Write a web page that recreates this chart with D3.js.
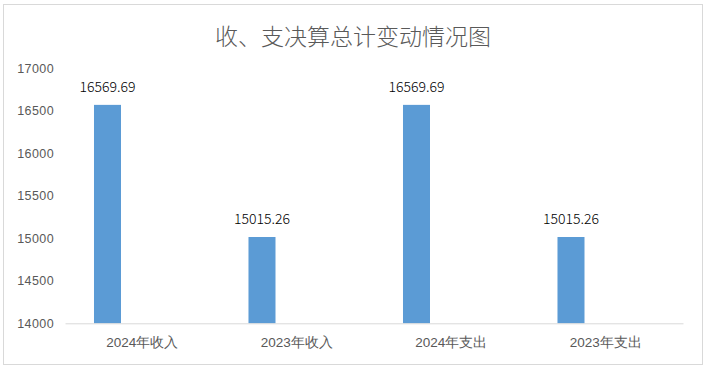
<!DOCTYPE html>
<html>
<head>
<meta charset="utf-8">
<script src="https://cdn.jsdelivr.net/npm/d3@7"></script>
<style>
  body { margin: 0; background: #fff; }
  svg { display: block; font-family: "Noto Sans CJK SC", "Noto Sans", sans-serif; }
</style>
</head>
<body>
<svg width="709" height="370"></svg>
<script>
var categories = ["2024年收入", "2023年收入", "2024年支出", "2023年支出"];
var seriesNames = ["系列1", "系列2"];
var series1 = [16569.69, 15015.26, 16569.69, 15015.26];
var series2 = [null, null, null, null];
var yTicks = [14000, 14500, 15000, 15500, 16000, 16500, 17000];
var title = "收、支决算总计变动情况图";

var svg = d3.select("svg"),
    width = +svg.attr("width"),
    height = +svg.attr("height");

var plotLeft = 65, plotRight = 683, plotTop = 68.3, plotBottom = 323.3;

// chart border
svg.append("rect")
    .attr("x", 3.5).attr("y", 4.5)
    .attr("width", 699).attr("height", 360)
    .attr("fill", "#fff")
    .attr("stroke", "#d9d9d9");

svg.append("text")
    .attr("x", 353).attr("y", 35)
    .attr("text-anchor", "middle")
    .attr("dominant-baseline", "central")
    .attr("font-size", 23)
    .attr("font-weight", 300)
    .attr("fill", "#595959")
    .text(title);

var x = d3.scaleBand()
    .domain(categories)
    .range([plotLeft, plotRight])
    .padding(0);

var xs = d3.scaleBand()
    .domain(seriesNames)
    .range([0, x.bandwidth()])
    .paddingInner(0.6115)
    .paddingOuter(0.417);

var y = d3.scaleLinear()
    .domain([14000, 17000])
    .range([plotBottom, plotTop]);

// y axis labels only
var yAxis = svg.append("g")
    .attr("transform", "translate(" + (plotLeft - 11) + ",0)")
    .call(d3.axisLeft(y).tickValues(yTicks).tickSize(0).tickPadding(0).tickFormat(d3.format("d")));
yAxis.select(".domain").remove();
yAxis.selectAll("text")
    .attr("font-size", 12.5)
    .attr("fill", "#595959")
    .attr("letter-spacing", 0.4);

var data = categories.map(function(c, i) {
    return [{cat: c, s: seriesNames[0], v: series1[i]}, {cat: c, s: seriesNames[1], v: series2[i]}];
});
var flat = [].concat.apply([], data).filter(function(d) { return d.v != null; });

svg.selectAll("rect.bar")
    .data(flat)
    .enter()
    .append("rect")
    .attr("class", "bar")
    .attr("x", function(d) { return x(d.cat) + xs(d.s); })
    .attr("width", xs.bandwidth())
    .attr("y", function(d) { return y(d.v); })
    .attr("height", function(d) { return y(14000) - y(d.v); })
    .attr("fill", "#5b9bd5");

svg.selectAll("text.val")
    .data(flat)
    .enter()
    .append("text")
    .attr("class", "val")
    .attr("x", function(d) { return x(d.cat) + xs(d.s) + xs.bandwidth() / 2; })
    .attr("y", function(d) { return y(d.v) - 19; })
    .attr("text-anchor", "middle")
    .attr("dominant-baseline", "central")
    .attr("font-size", 14)
    .attr("font-weight", 300)
    .attr("fill", "#000")
    .text(function(d) { return d3.format(".2f")(d.v); });

// x axis
var xAxis = svg.append("g")
    .attr("transform", "translate(0," + plotBottom + ")")
    .call(d3.axisBottom(x).tickSize(0).tickPadding(0));
xAxis.select(".domain").attr("stroke", "#d9d9d9");
xAxis.selectAll("text")
    .attr("y", 19)
    .attr("dy", "0.35em")
    .attr("font-size", 13.5)
    .attr("fill", "#595959");
</script>
</body>
</html>
